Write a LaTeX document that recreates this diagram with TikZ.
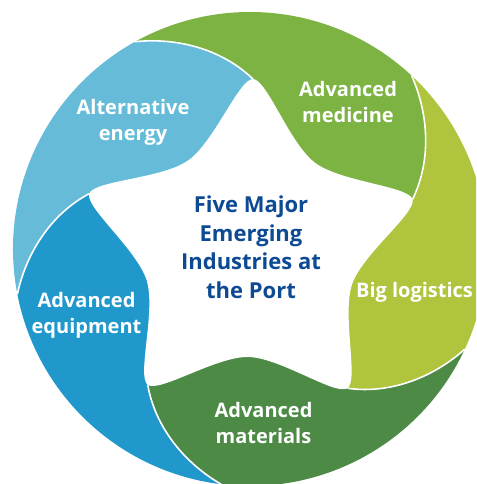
\documentclass[tikz,border=0pt]{standalone}
\usepackage{fontspec}
\setmainfont{Open Sans}
\usetikzlibrary{calc}
\definecolor{cEnergy}{HTML}{66BCD8}
\definecolor{cMedicine}{HTML}{7CB342}
\definecolor{cLogistics}{HTML}{B0C43E}
\definecolor{cMaterials}{HTML}{4C8A46}
\definecolor{cEquipment}{HTML}{2198CC}
\definecolor{cTitle}{HTML}{0D4A94}
\tikzset{
  sep/.style={draw=white, line width=1.6pt},
  lbl/.style={text=white, font=\fontsize{20}{26}\selectfont\bfseries, align=center, inner sep=0pt},
  ttl/.style={text=cTitle, font=\fontsize{22}{28.5}\selectfont\bfseries, align=center, inner sep=0pt},
}
\begin{document}
\begin{tikzpicture}[x=1pt,y=1pt]
\useasboundingbox (-250,-235) rectangle (226,249);
\clip (-250,-235) rectangle (226,249);
\fill[white] (-250,-235) rectangle (226,249);
\foreach \k in {0,...,4}{
  \pgfmathsetmacro\ang{89-72*\k}
  \pgfmathsetmacro\bng{\ang-36}
  \coordinate (T\k) at (\ang:170);
  \coordinate (Tout\k) at ($(T\k)+(\ang-90:14)$);
  \coordinate (Tin\k) at ($(T\k)+(\ang+90:14)$);
  \coordinate (V\k) at (\bng:108);
  \coordinate (Vin\k) at ($(V\k)+(\bng+90:32)$);
  \coordinate (Vout\k) at ($(V\k)+(\bng-90:32)$);
  \coordinate (E\k) at (\ang+30:237);
  \coordinate (Ca\k) at ($(T\k)+(\ang+47:45)$);
  \coordinate (Cb\k) at ($(E\k)+(\ang-83:40)$);
}
% coloured segments
\fill[cMedicine] (0,0) -- (T1) .. controls (Ca1) and (Cb1) .. (E1)
  arc[start angle=47, end angle=119, radius=237pt] .. controls (Cb0) and (Ca0) .. (T0) -- cycle;
\fill[cLogistics] (0,0) -- (T2) .. controls (Ca2) and (Cb2) .. (E2)
  arc[start angle=-25, end angle=47, radius=237pt] .. controls (Cb1) and (Ca1) .. (T1) -- cycle;
\fill[cMaterials] (0,0) -- (T3) .. controls (Ca3) and (Cb3) .. (E3)
  arc[start angle=-97, end angle=-25, radius=237pt] .. controls (Cb2) and (Ca2) .. (T2) -- cycle;
\fill[cEquipment] (0,0) -- (T4) .. controls (Ca4) and (Cb4) .. (E4)
  arc[start angle=-169, end angle=-97, radius=237pt] .. controls (Cb3) and (Ca3) .. (T3) -- cycle;
\fill[cEnergy] (0,0) -- (T0) .. controls (Ca0) and (Cb0) .. (E0)
  arc[start angle=119, end angle=191, radius=237pt] .. controls (Cb4) and (Ca4) .. (T4) -- cycle;
% star
\fill[white] (T0) .. controls (Tout0) and (Vin0) .. (V0) .. controls (Vout0) and (Tin1) .. (T1)
  .. controls (Tout1) and (Vin1) .. (V1) .. controls (Vout1) and (Tin2) .. (T2)
  .. controls (Tout2) and (Vin2) .. (V2) .. controls (Vout2) and (Tin3) .. (T3)
  .. controls (Tout3) and (Vin3) .. (V3) .. controls (Vout3) and (Tin4) .. (T4)
  .. controls (Tout4) and (Vin4) .. (V4) .. controls (Vout4) and (Tin0) .. (T0) -- cycle;
% separators
\foreach \k in {0,...,4}{
  \draw[sep] (T\k) .. controls (Ca\k) and (Cb\k) .. (E\k);
}
% labels
\node[lbl] (lEnergy) at (-117,127) {Alternative\\energy};
\node[lbl] (lMedicine) at (98,146.5) {Advanced\\medicine};
\node[lbl] (lLogistics) at (164.5,-43.5) {Big logistics};
\node[lbl] (lEquipment) at (-163.5,-66) {Advanced\\equipment};
\node[lbl] (lMaterials) at (13.5,-174) {Advanced\\materials};
\node[ttl] (title) at (1,2) {Five Major\\Emerging\\Industries at\\the Port};
\end{tikzpicture}
\end{document}
